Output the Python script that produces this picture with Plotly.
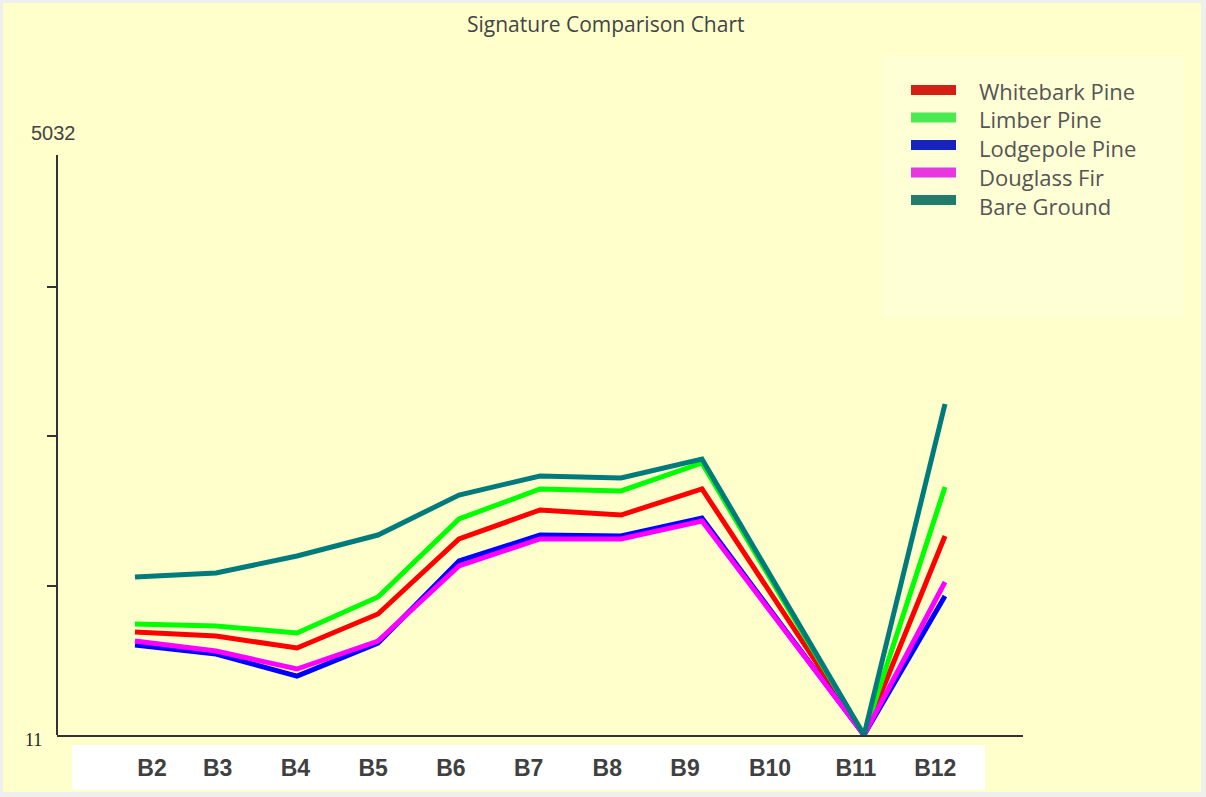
import plotly.graph_objects as go

# ---------------- data ----------------
bands = ["B2", "B3", "B4", "B5", "B6", "B7", "B8", "B9", "B10", "B11", "B12"]
whitebark_pine = [876, 842, 742, 1027, 1657, 1900, 1858, 2077, 1044, 11, 1682]
limber_pine    = [943, 926, 867, 1170, 1825, 2077, 2060, 2295, 1145, 11, 2093]
lodgepole_pine = [767, 691, 506, 783, 1472, 1690, 1682, 1833, 918, 11, 1178]
douglass_fir   = [800, 716, 565, 800, 1430, 1657, 1657, 1808, 909, 11, 1296]
bare_ground    = [1338, 1371, 1514, 1690, 2026, 2186, 2169, 2328, 1170, 11, 2790]

series_names = ["Whitebark Pine", "Limber Pine", "Lodgepole Pine", "Douglass Fir", "Bare Ground"]
series_values = [whitebark_pine, limber_pine, lodgepole_pine, douglass_fir, bare_ground]
y_min, y_max = 11, 5032

# ---------------- style ----------------
line_colors = ["#FF0000", "#00FF00", "#0000FF", "#FF00FF", "#007B7B"]
legend_colors = ["#D42014", "#4BEA50", "#1624BE", "#E837E0", "#237B6C"]
label_pos = [0.21, 1.02, 1.98, 2.94, 3.90, 4.86, 5.83, 6.79, 7.84, 8.90, 9.88]
BG = "#FFFFCC"

W, H = 1206, 797
L, R, T, B = 57, 183, 137, 62
PW, PH = W - L - R, H - T - B


def px(x):
    return (x - L) / PW


def py(y):
    return (H - B - y) / PH


x_idx = list(range(len(bands)))
fig = go.Figure()
for name, vals, col in zip(series_names, series_values, line_colors):
    fig.add_trace(go.Scatter(x=x_idx, y=vals, mode="lines", name=name,
                             line=dict(color=col, width=5), showlegend=False))

shapes = []
# outer yellow frame over grey border
shapes.append(dict(type="rect", xref="paper", yref="paper", layer="below",
                   x0=px(3), x1=px(1201), y0=py(792), y1=py(3),
                   fillcolor=BG, line=dict(width=0)))
# slightly lighter legend box
shapes.append(dict(type="rect", xref="paper", yref="paper", layer="below",
                   x0=px(882), x1=px(1184), y0=py(318), y1=py(56),
                   fillcolor="#FFFFD6", line=dict(width=0)))
# white band under x labels
shapes.append(dict(type="rect", xref="paper", yref="paper", layer="below",
                   x0=px(72), x1=px(985), y0=py(790), y1=py(745),
                   fillcolor="#FFFFFF", line=dict(width=0)))
# y axis line
shapes.append(dict(type="line", xref="paper", yref="paper",
                   x0=0, x1=0, y0=0, y1=py(155),
                   line=dict(color="#333333", width=2)))

annotations = [
    dict(text="Signature Comparison Chart", xref="paper", yref="paper",
         x=px(605), y=py(24), showarrow=False, xanchor="center", yanchor="middle",
         font=dict(family="Open Sans", size=21, color="#444444")),
    dict(text="5032", xref="paper", yref="paper", x=px(53), y=py(133),
         showarrow=False, xanchor="center", yanchor="middle",
         font=dict(family="Liberation Sans", size=20, color="#444444")),
    dict(text="11", xref="paper", yref="paper", x=px(33), y=py(740),
         showarrow=False, xanchor="center", yanchor="middle",
         font=dict(family="Liberation Serif", size=18, color="#222222")),
]

legend_sw_y = [90, 117.5, 145, 172.5, 200]
legend_tx_y = [91, 119, 148, 177, 206]
for name, col, sy, ty in zip(series_names, legend_colors, legend_sw_y, legend_tx_y):
    shapes.append(dict(type="rect", xref="paper", yref="paper",
                       x0=px(911), x1=px(956), y0=py(sy + 5), y1=py(sy - 5),
                       fillcolor=col, line=dict(width=0)))
    annotations.append(dict(text=name, xref="paper", yref="paper",
                            x=px(977), y=py(ty), showarrow=False,
                            xanchor="left", yanchor="middle",
                            font=dict(family="Open Sans", size=22, color="#555555")))

step = (y_max - y_min) / 4
fig.update_layout(
    width=W, height=H,
    margin=dict(l=L, r=R, t=T, b=B, pad=0),
    paper_bgcolor="#EFEFEF",
    plot_bgcolor="rgba(0,0,0,0)",
    shapes=shapes,
    annotations=annotations,
    showlegend=False,
    xaxis=dict(range=[-78 / 81, 10 + 78 / 81], tickmode="array",
               tickvals=label_pos, ticktext=bands,
               ticks="outside", ticklen=11, tickcolor="rgba(0,0,0,0)",
               tickfont=dict(family="Liberation Sans", size=23, color="#404040",
                             weight="bold"),
               showgrid=False, zeroline=False,
               showline=True, linecolor="#333333", linewidth=2),
    yaxis=dict(range=[y_min, y_max], tickmode="array",
               tickvals=[y_min + step, y_min + 2 * step, y_min + 3 * step],
               showticklabels=False, ticks="outside", ticklen=9,
               tickcolor="#333333", tickwidth=2,
               showgrid=False, zeroline=False, showline=False),
)

fig.write_html("out.html", config={"displayModeBar": False},
               post_script="document.body.style.margin='0';document.body.style.overflow='hidden';")
